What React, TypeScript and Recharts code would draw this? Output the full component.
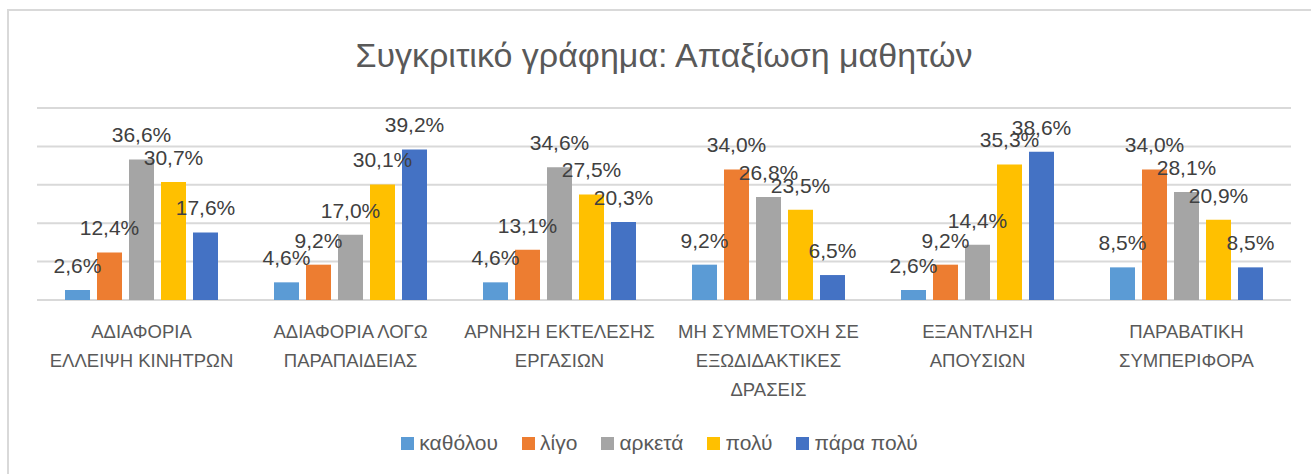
import React from "react";
import {
  BarChart,
  Bar,
  XAxis,
  YAxis,
  CartesianGrid,
  Legend,
  LabelList,
} from "recharts";

const W = 1311;
const H = 474;

const categories = [
  "ΑΔΙΑΦΟΡΙΑ\nΕΛΛΕΙΨΗ ΚΙΝΗΤΡΩΝ",
  "ΑΔΙΑΦΟΡΙΑ ΛΟΓΩ\nΠΑΡΑΠΑΙΔΕΙΑΣ",
  "ΑΡΝΗΣΗ ΕΚΤΕΛΕΣΗΣ\nΕΡΓΑΣΙΩΝ",
  "ΜΗ ΣΥΜΜΕΤΟΧΗ ΣΕ\nΕΞΩΔΙΔΑΚΤΙΚΕΣ\nΔΡΑΣΕΙΣ",
  "ΕΞΑΝΤΛΗΣΗ\nΑΠΟΥΣΙΩΝ",
  "ΠΑΡΑΒΑΤΙΚΗ\nΣΥΜΠΕΡΙΦΟΡΑ",
];

const seriesNames = ["καθόλου", "λίγο", "αρκετά", "πολύ", "πάρα πολύ"];
const seriesColors = ["#5B9BD5", "#ED7D31", "#A5A5A5", "#FFC000", "#4472C4"];

const katholou = [2.6, 4.6, 4.6, 9.2, 2.6, 8.5];
const ligo = [12.4, 9.2, 13.1, 34.0, 9.2, 34.0];
const arketa = [36.6, 17.0, 34.6, 26.8, 14.4, 28.1];
const poly = [30.7, 30.1, 27.5, 23.5, 35.3, 20.9];
const paraPoly = [17.6, 39.2, 20.3, 6.5, 38.6, 8.5];

const yTicks = [0, 10, 20, 30, 40, 50];

const seriesValues = [katholou, ligo, arketa, poly, paraPoly];

const data = categories.map((name, i) => {
  const row: Record<string, string | number> = { name };
  seriesNames.forEach((s, j) => {
    row[s] = seriesValues[j][i];
  });
  return row;
});

const FONT = "'Liberation Sans', Arial, sans-serif";

const fmt = (v: any) => `${Number(v).toFixed(1).replace(".", ",")}%`;

function CategoryTick(props: any) {
  const { x, y, payload } = props;
  const lines = String(payload.value).split("\n");
  return (
    <text
      x={x}
      y={y}
      textAnchor="middle"
      fill="#595959"
      fontSize={18.5}
      fontFamily={FONT}
    >
      {lines.map((l, i) => (
        <tspan key={i} x={x} dy={i === 0 ? 38 : 29}>
          {l}
        </tspan>
      ))}
    </text>
  );
}

function LegendContent() {
  return (
    <div
      style={{
        display: "flex",
        justifyContent: "center",
        alignItems: "center",
        fontFamily: FONT,
        fontSize: 21,
        color: "#595959",
        paddingLeft: 8,
      }}
    >
      {seriesNames.map((s, i) => (
        <div
          key={s}
          style={{
            display: "flex",
            alignItems: "center",
            marginRight: i < seriesNames.length - 1 ? 24 : 0,
          }}
        >
          <span
            style={{
              display: "inline-block",
              width: 13,
              height: 13,
              background: seriesColors[i],
              marginRight: 5,
            }}
          />
          <span>{s}</span>
        </div>
      ))}
    </div>
  );
}

export default function App() {
  return (
    <div
      style={{
        position: "absolute",
        left: 0,
        top: 0,
        width: W,
        height: H,
        overflow: "hidden",
        background: "#fff",
      }}
    >
      <div
        style={{
          position: "absolute",
          left: 7,
          top: 9,
          width: W + 20,
          height: H + 20,
          borderLeft: "2px solid #d9d9d9",
          borderTop: "2px solid #d9d9d9",
        }}
      />
      <div
        style={{
          position: "absolute",
          left: 0,
          top: 36,
          width: 1328,
          textAlign: "center",
          fontFamily: FONT,
          fontSize: 34,
          color: "#595959",
        }}
      >
        Συγκριτικό γράφημα: Απαξίωση μαθητών
      </div>
      <div style={{ position: "absolute", left: 0, top: 0 }}>
        <BarChart
          width={W}
          height={H}
          data={data}
          margin={{ top: 108, right: 20, bottom: 74, left: 37 }}
          barGap={7}
          barSize={25}
        >
          <CartesianGrid
            vertical={false}
            stroke="#d9d9d9"
            strokeWidth={2}
          />
          <YAxis hide domain={[0, 50]} ticks={yTicks} />
          <XAxis
            dataKey="name"
            axisLine={false}
            tickLine={false}
            tickSize={0}
            tickMargin={0}
            height={100}
            interval={0}
            tick={<CategoryTick />}
          />
          <Legend
            verticalAlign="middle"
            content={<LegendContent />}
            wrapperStyle={{ top: 431, left: 0, width: W }}
          />
          {seriesNames.map((s, i) => (
            <Bar
              key={s}
              dataKey={s}
              fill={seriesColors[i]}
              isAnimationActive={false}
            >
              <LabelList
                dataKey={s}
                position="top"
                offset={17}
                formatter={fmt}
                fill="#404040"
                fontSize={21}
                fontFamily={FONT}
              />
            </Bar>
          ))}
        </BarChart>
      </div>
    </div>
  );
}
